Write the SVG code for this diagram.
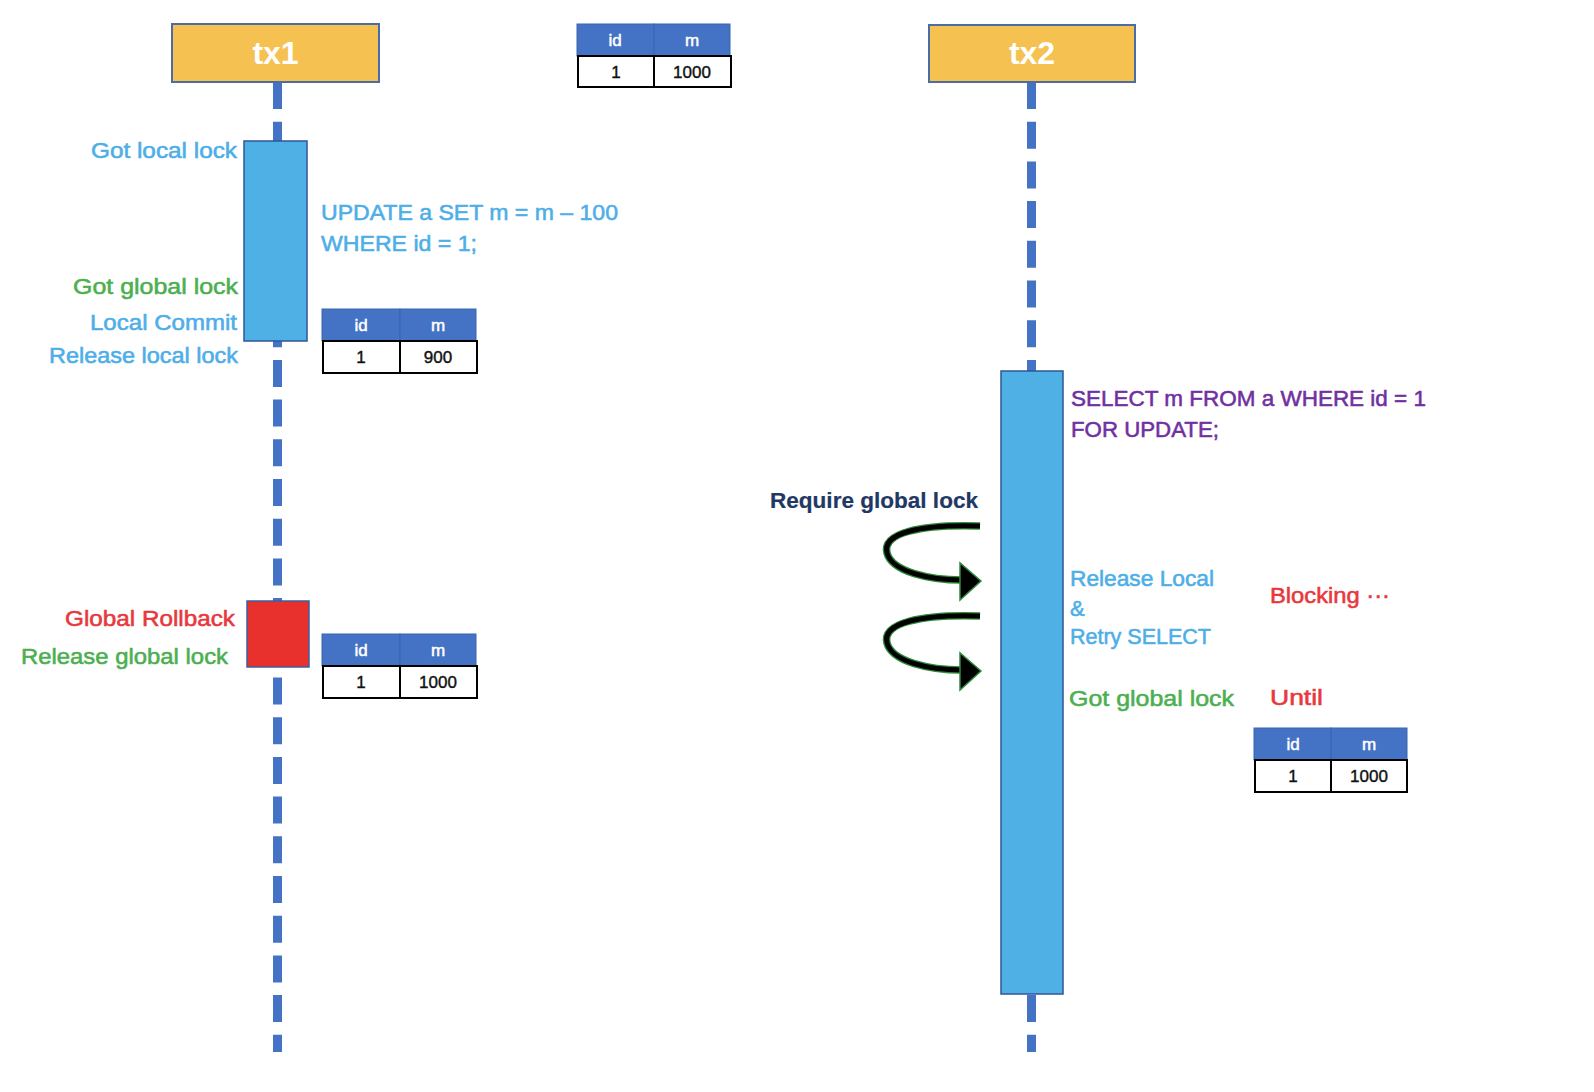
<svg xmlns="http://www.w3.org/2000/svg" width="1594" height="1092" viewBox="0 0 1594 1092">
<style>
text{font-family:"Liberation Sans",Arial,sans-serif;}
.hdr{fill:#F5C252;stroke:#4A6DA7;stroke-width:2;}
.hdrt{fill:#fff;font-size:32px;font-weight:bold;text-anchor:middle;}
.life{stroke:#4472C4;stroke-width:9;stroke-dasharray:27 12.7;fill:none;}
.act{fill:#4FB0E6;stroke:#2F5597;stroke-width:1.5;}
.th{fill:#4472C4;stroke:#3A64AE;stroke-width:1;}
.td{fill:#fff;stroke:#000;stroke-width:2;}
.tht{fill:#fff;stroke:#fff;stroke-width:0.5;font-size:17px;text-anchor:middle;}
.tdt{fill:#111;stroke:#111;stroke-width:0.4;font-size:17px;text-anchor:middle;}
.l{font-size:22px;stroke-width:0.55;}
.blue{fill:#4DAEE8;stroke:#4DAEE8;}
.green{fill:#4CAF50;stroke:#4CAF50;}
.red{fill:#E8383D;stroke:#E8383D;}
.purple{fill:#7030A0;stroke:#7030A0;}
.navy{fill:#1F3864;stroke:#1F3864;stroke-width:0.2;font-weight:bold;}
.end{text-anchor:end;}
.arr1{stroke:#2E8B3A;stroke-width:7.5;fill:none;}
.arr2{stroke:#000;stroke-width:5;fill:none;}
.head{fill:#000;stroke:#2E8B3A;stroke-width:1.5;}
</style>

<g id="connectors">
  <line class="life" x1="277.5" y1="82" x2="277.5" y2="1052"/>
  <line class="life" x1="1031.5" y1="82" x2="1031.5" y2="1052"/>
  <g id="retry-arrow-1">
    <path class="arr1" d="M 980 526 C 920 524 882 533 887 553 C 892 572 930 580 962 580"/>
    <path class="arr2" d="M 980 526 C 920 524 882 533 887 553 C 892 572 930 580 962 580"/>
    <polygon class="head" points="981,581 960,563 960,600"/>
  </g>
  <g id="retry-arrow-2">
    <path class="arr1" d="M 980 616 C 920 614 882 623 887 643 C 892 662 930 670 962 670"/>
    <path class="arr2" d="M 980 616 C 920 614 882 623 887 643 C 892 662 930 670 962 670"/>
    <polygon class="head" points="981,671 960,653 960,690"/>
  </g>
</g>

<g id="tx1">
  <rect class="hdr" x="172" y="24" width="207" height="58"/>
  <text class="hdrt" x="275.5" y="64">tx1</text>
</g>
<g id="tx2">
  <rect class="hdr" x="929" y="25" width="206" height="57"/>
  <text class="hdrt" x="1032" y="64">tx2</text>
</g>

<g id="table-initial">
  <rect class="th" x="577" y="24" width="77" height="32"/>
  <rect class="th" x="654" y="24" width="76" height="32"/>
  <rect class="td" x="578" y="56" width="76" height="31"/>
  <rect class="td" x="654" y="56" width="77" height="31"/>
  <text class="tht" x="615" y="46">id</text>
  <text class="tht" x="692" y="46">m</text>
  <text class="tdt" x="616" y="78">1</text>
  <text class="tdt" x="692" y="78">1000</text>
</g>

<g id="tx1-activation">
  <rect class="act" x="244" y="141" width="63" height="200"/>
</g>
<g id="tx1-labels">
  <text class="l blue end" x="237" y="158" textLength="146" lengthAdjust="spacingAndGlyphs">Got local lock</text>
  <text class="l blue" x="321" y="220" textLength="297" lengthAdjust="spacingAndGlyphs">UPDATE a SET m = m – 100</text>
  <text class="l blue" x="321" y="251" textLength="156" lengthAdjust="spacingAndGlyphs">WHERE id = 1;</text>
  <text class="l green end" x="238" y="294" textLength="165" lengthAdjust="spacingAndGlyphs">Got global lock</text>
  <text class="l blue end" x="237" y="330" textLength="147" lengthAdjust="spacingAndGlyphs">Local Commit</text>
  <text class="l blue end" x="238" y="363" textLength="189" lengthAdjust="spacingAndGlyphs">Release local lock</text>
</g>

<g id="table-after-update">
  <rect class="th" x="322" y="309" width="78" height="32"/>
  <rect class="th" x="400" y="309" width="76" height="32"/>
  <rect class="td" x="323" y="341" width="77" height="32"/>
  <rect class="td" x="400" y="341" width="77" height="32"/>
  <text class="tht" x="361" y="331">id</text>
  <text class="tht" x="438" y="331">m</text>
  <text class="tdt" x="361" y="363">1</text>
  <text class="tdt" x="438" y="363">900</text>
</g>

<g id="rollback">
  <rect x="247" y="601" width="62" height="66" fill="#E8312D" stroke="#3D5FA0" stroke-width="1.5"/>
</g>
<g id="rollback-labels">
  <text class="l red end" x="235" y="626" textLength="170" lengthAdjust="spacingAndGlyphs">Global Rollback</text>
  <text class="l green end" x="228" y="664" textLength="207" lengthAdjust="spacingAndGlyphs">Release global lock</text>
</g>

<g id="table-after-rollback">
  <rect class="th" x="322" y="634" width="78" height="32"/>
  <rect class="th" x="400" y="634" width="76" height="32"/>
  <rect class="td" x="323" y="666" width="77" height="32"/>
  <rect class="td" x="400" y="666" width="77" height="32"/>
  <text class="tht" x="361" y="656">id</text>
  <text class="tht" x="438" y="656">m</text>
  <text class="tdt" x="361" y="688">1</text>
  <text class="tdt" x="438" y="688">1000</text>
</g>

<g id="tx2-activation">
  <rect class="act" x="1001" y="371" width="62" height="623"/>
</g>
<g id="tx2-labels">
  <text class="l purple" x="1071" y="406" textLength="355" lengthAdjust="spacingAndGlyphs">SELECT m FROM a WHERE id = 1</text>
  <text class="l purple" x="1071" y="437" textLength="148" lengthAdjust="spacingAndGlyphs">FOR UPDATE;</text>
  <text class="l navy end" x="978" y="508" textLength="208" lengthAdjust="spacingAndGlyphs">Require global lock</text>
  <text class="l blue" x="1070" y="586" textLength="144" lengthAdjust="spacingAndGlyphs">Release Local</text>
  <text class="l blue" x="1070" y="616">&amp;</text>
  <text class="l blue" x="1070" y="644" textLength="141" lengthAdjust="spacingAndGlyphs">Retry SELECT</text>
  <text class="l red" x="1270" y="603" textLength="120" lengthAdjust="spacingAndGlyphs">Blocking ···</text>
  <text class="l green" x="1069" y="706" textLength="165" lengthAdjust="spacingAndGlyphs">Got global lock</text>
  <text class="l red" x="1270" y="705" textLength="53" lengthAdjust="spacingAndGlyphs">Until</text>
</g>

<g id="table-tx2">
  <rect class="th" x="1254" y="728" width="77" height="32"/>
  <rect class="th" x="1331" y="728" width="76" height="32"/>
  <rect class="td" x="1255" y="760" width="76" height="32"/>
  <rect class="td" x="1331" y="760" width="76" height="32"/>
  <text class="tht" x="1293" y="750">id</text>
  <text class="tht" x="1369" y="750">m</text>
  <text class="tdt" x="1293" y="782">1</text>
  <text class="tdt" x="1369" y="782">1000</text>
</g>
</svg>
